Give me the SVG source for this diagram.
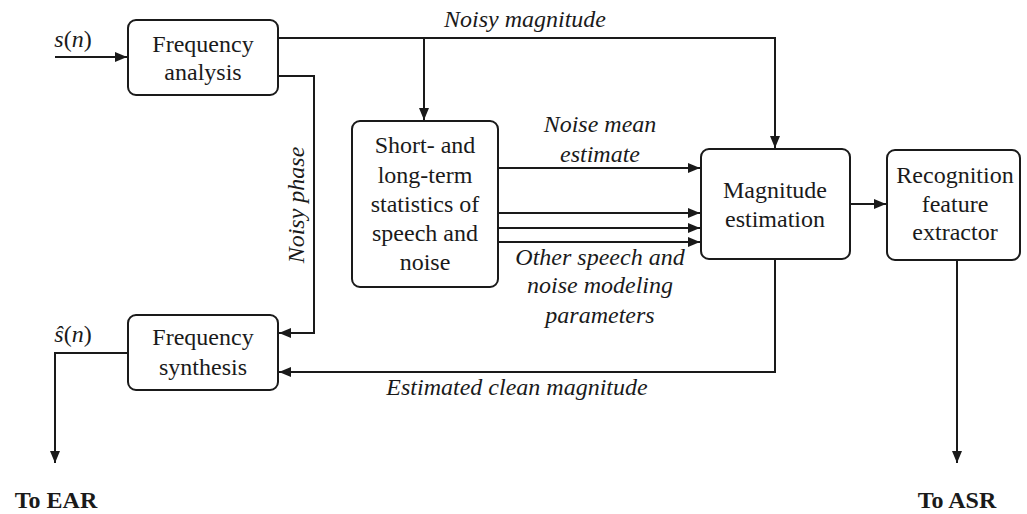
<svg xmlns="http://www.w3.org/2000/svg" width="1027" height="514" viewBox="0 0 1027 514">
  <style>
    .box { fill: #fff; stroke: #1a1a1a; stroke-width: 2; }
    text { font-family: 'Liberation Serif', 'Times New Roman', serif; font-size: 24px; fill: #1a1a1a; text-anchor: middle; }
    .it { font-style: italic; }
    .bold { font-weight: bold; }
    .wire { fill: none; stroke: #1a1a1a; stroke-width: 2; }
  </style>
  <defs>
    <marker id="arrow" viewBox="0 0 12 10" refX="12" refY="5" markerWidth="12" markerHeight="10" markerUnits="userSpaceOnUse" orient="auto">
      <path d="M0,0 L12,5 L0,10 Z" fill="#1a1a1a"/>
    </marker>
  </defs>

  <rect width="1027" height="514" fill="#fff"/>

  <g id="connectors">
    <!-- input signal -->
    <path class="wire" d="M55,57 H127" marker-end="url(#arrow)"/>
    <!-- noisy magnitude bus -->
    <path class="wire" d="M278,38 H775 V148" marker-end="url(#arrow)"/>
    <path class="wire" d="M424,38 V120" marker-end="url(#arrow)"/>
    <!-- noisy phase -->
    <path class="wire" d="M278,76 H314 V333 H279" marker-end="url(#arrow)"/>
    <!-- statistics to magnitude estimation -->
    <path class="wire" d="M498,168 H700" marker-end="url(#arrow)"/>
    <path class="wire" d="M498,213 H700" marker-end="url(#arrow)"/>
    <path class="wire" d="M498,228 H700" marker-end="url(#arrow)"/>
    <path class="wire" d="M498,242 H700" marker-end="url(#arrow)"/>
    <!-- magnitude to recognition -->
    <path class="wire" d="M850,204 H886" marker-end="url(#arrow)"/>
    <!-- estimated clean magnitude back to synthesis -->
    <path class="wire" d="M775,259 V372 H279" marker-end="url(#arrow)"/>
    <!-- outputs -->
    <path class="wire" d="M128,353 H55 V463" marker-end="url(#arrow)"/>
    <path class="wire" d="M957,260 V463" marker-end="url(#arrow)"/>

    <!-- connector labels -->
    <text class="it" x="73" y="47" text-anchor="start">s<tspan font-style="normal">(</tspan>n<tspan font-style="normal">)</tspan></text>
    <text class="it" x="525" y="27">Noisy magnitude</text>
    <text class="it" transform="translate(304,205) rotate(-90)">Noisy phase</text>
    <text class="it" x="600" y="132">Noise mean</text>
    <text class="it" x="600" y="162">estimate</text>
    <text class="it" x="600" y="265">Other speech and</text>
    <text class="it" x="600" y="293">noise modeling</text>
    <text class="it" x="600" y="323">parameters</text>
    <text class="it" x="517" y="395">Estimated clean magnitude</text>
    <text class="it" x="73" y="342" text-anchor="start">ŝ<tspan font-style="normal">(</tspan>n<tspan font-style="normal">)</tspan></text>
    <text class="bold" x="56" y="508">To EAR</text>
    <text class="bold" x="957" y="508">To ASR</text>
  </g>

  <g id="frequency-analysis">
    <rect class="box" x="128" y="20" width="150" height="75" rx="8"/>
    <text x="203" y="52">Frequency</text>
    <text x="203" y="80">analysis</text>
  </g>

  <g id="statistics">
    <rect class="box" x="352" y="121" width="146" height="166" rx="8"/>
    <text x="425" y="153">Short- and</text>
    <text x="425" y="183">long-term</text>
    <text x="425" y="212">statistics of</text>
    <text x="425" y="241">speech and</text>
    <text x="425" y="270">noise</text>
  </g>

  <g id="magnitude-estimation">
    <rect class="box" x="701" y="149" width="149" height="110" rx="8"/>
    <text x="775" y="198">Magnitude</text>
    <text x="775" y="227">estimation</text>
  </g>

  <g id="recognition-feature-extractor">
    <rect class="box" x="887" y="150" width="133" height="110" rx="8"/>
    <text x="955" y="183">Recognition</text>
    <text x="955" y="212">feature</text>
    <text x="955" y="240">extractor</text>
  </g>

  <g id="frequency-synthesis">
    <rect class="box" x="128" y="315" width="150" height="75" rx="8"/>
    <text x="203" y="345">Frequency</text>
    <text x="203" y="375">synthesis</text>
  </g>
</svg>
